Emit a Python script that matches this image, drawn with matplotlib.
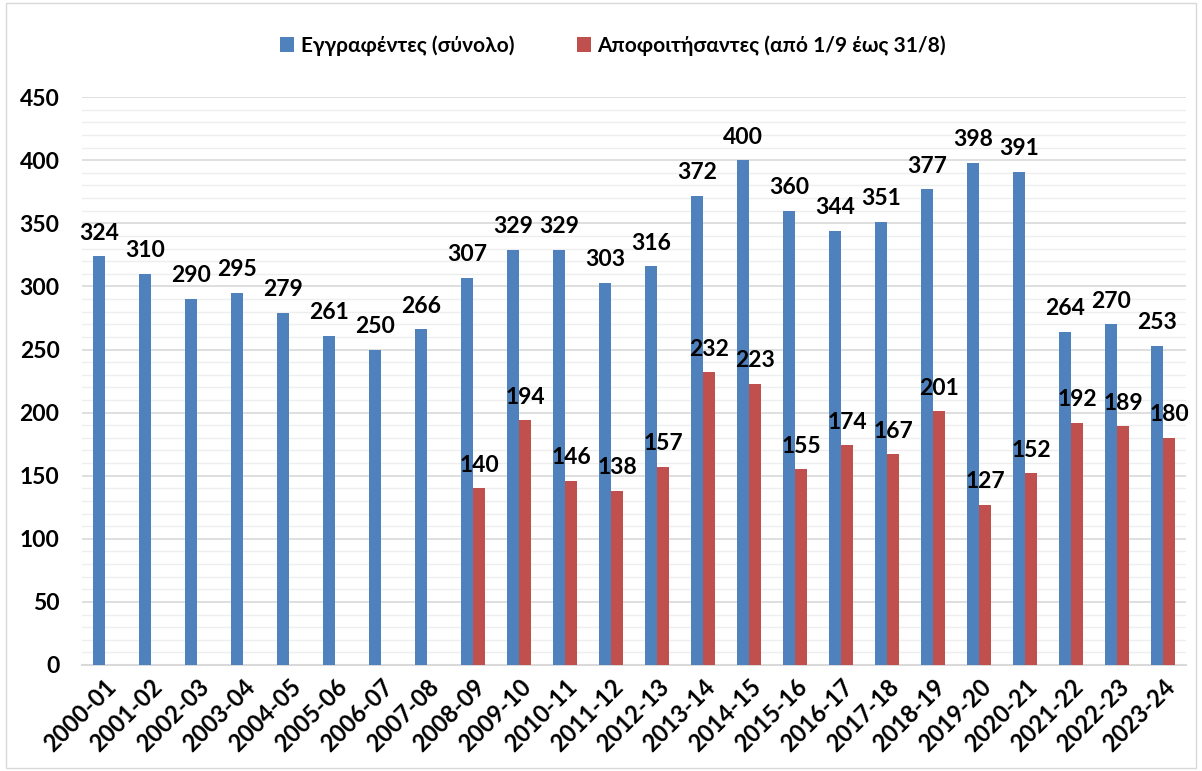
import numpy as np
import matplotlib
matplotlib.use("Agg")
import matplotlib.pyplot as plt
from matplotlib.patches import Rectangle
from matplotlib.ticker import MultipleLocator

plt.rcParams["font.family"] = "Lato"
plt.rcParams["font.weight"] = "bold"

years = ["2000-01", "2001-02", "2002-03", "2003-04", "2004-05", "2005-06",
         "2006-07", "2007-08", "2008-09", "2009-10", "2010-11", "2011-12",
         "2012-13", "2013-14", "2014-15", "2015-16", "2016-17", "2017-18",
         "2018-19", "2019-20", "2020-21", "2021-22", "2022-23", "2023-24"]
enrolled = [324, 310, 290, 295, 279, 261, 250, 266, 307, 329, 329, 303,
            316, 372, 400, 360, 344, 351, 377, 398, 391, 264, 270, 253]
graduates = [None] * 8 + [140, 194, 146, 138, 157, 232, 223, 155, 174, 167,
                          201, 127, 152, 192, 189, 180]

blue = "#4F81BD"
red = "#C0504D"

fig = plt.figure(figsize=(12.02, 7.71), dpi=100)
ax = fig.add_axes([0.068, 0.1375, 0.919, 0.7365])

x = np.arange(len(years))
w = 0.26
b1 = ax.bar(x - w / 2, enrolled, w, color=blue, label="Εγγραφέντες (σύνολο)", zorder=3)
gx = [xi for xi, g in zip(x, graduates) if g is not None]
gv = [g for g in graduates if g is not None]
b2 = ax.bar(np.array(gx) + w / 2, gv, w, color=red,
            label="Αποφοιτήσαντες (από 1/9 έως 31/8)", zorder=3)

for xi, v in zip(x, enrolled):
    ax.text(xi - w / 2, v + 10, str(v), ha="center", va="bottom",
            fontsize=16.5, fontweight="bold", zorder=4)
for xi, v in zip(gx, gv):
    ax.text(xi + w / 2, v + 10, str(v), ha="center", va="bottom",
            fontsize=16.5, fontweight="bold", zorder=4)

ax.set_xlim(-0.5, len(years) - 0.5)
ax.set_ylim(0, 450)
ax.yaxis.set_major_locator(MultipleLocator(50))
ax.yaxis.set_minor_locator(MultipleLocator(10))
ax.grid(axis="y", which="major", color="#d9d9d9", linewidth=1.2, zorder=0)
ax.grid(axis="y", which="minor", color="#eeeeee", linewidth=1.0, zorder=0)
ax.set_axisbelow(True)

ax.set_xticks(x)
ax.set_xticklabels(years, rotation=45, ha="right", rotation_mode="anchor",
                   fontsize=17, fontweight="bold")
ax.tick_params(axis="x", length=0, pad=7)
ax.tick_params(axis="y", which="both", length=0, labelsize=16.5, pad=16)
for lab in ax.get_yticklabels():
    lab.set_fontweight("bold")

for s in ["top", "right", "left"]:
    ax.spines[s].set_visible(False)
ax.spines["bottom"].set_color("#d9d9d9")
ax.spines["bottom"].set_linewidth(1.5)

fig.legend(handles=[b1, b2], loc="center", bbox_to_anchor=(0.51, 0.941),
           ncol=2, frameon=False, handlelength=0.7,
           handleheight=0.7, columnspacing=3.0, handletextpad=0.3,
           prop={"weight": "bold", "size": 15, "family": "Lato"})

fig.patches.append(Rectangle((0.005, 0.004), 0.99, 0.992, transform=fig.transFigure,
                             fill=False, edgecolor="#d9d9d9", linewidth=1.0))

fig.savefig("out.png", dpi=100, facecolor="white")
